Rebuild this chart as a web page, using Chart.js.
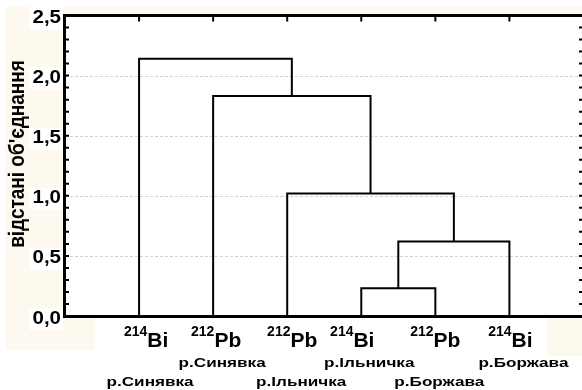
<!DOCTYPE html>
<html lang="uk">
<head>
    <meta charset="UTF-8">
    <title>Dendrogram</title>
    <script src="https://cdn.jsdelivr.net/npm/chart.js@4.4.1/dist/chart.umd.min.js"></script>
    <style>
        body { margin: 0; background: #fff; }
    </style>
</head>
<body>
    <canvas id="graph" width="582" height="390"></canvas>

    <script>
        // leaves, left to right
        const isotopes = ['214', '212', '212', '214', '212', '214'];
        const elements = ['Bi', 'Pb', 'Pb', 'Bi', 'Pb', 'Bi'];
        const rivers = ['р.Синявка', 'р.Синявка', 'р.Ільничка', 'р.Ільничка', 'р.Боржава', 'р.Боржава'];

        // joins: ids 1..6 are the leaves, 7.. are the joins in this order
        const joinLeft = [4, 7, 3, 2, 1];
        const joinRight = [5, 6, 8, 9, 10];
        const joinHeight = [0.23, 0.62, 1.02, 1.83, 2.14];

        const yTicks = [0, 0.5, 1, 1.5, 2, 2.5];
        const yTitle = "відстані об'єднання";

        // small hand nudges of the labels, like in the original
        const labelShift = [7, 3, 5, -9, 0, 1];
        const riverShift = [11, 9, 14, 8, 4, 14];

        const font = '"Liberation Sans", Arial, sans-serif';
        const cream = '#fdf9ef';

        // build the U shaped links
        const nodeX = {}, nodeY = {};
        isotopes.forEach((_, i) => { nodeX[i + 1] = i + 1; nodeY[i + 1] = 0; });
        const links = joinHeight.map((h, k) => {
            const a = joinLeft[k], b = joinRight[k], id = isotopes.length + 1 + k;
            nodeX[id] = (nodeX[a] + nodeX[b]) / 2;
            nodeY[id] = h;
            return [
                {x: nodeX[a], y: nodeY[a]},
                {x: nodeX[a], y: h},
                {x: nodeX[b], y: h},
                {x: nodeX[b], y: nodeY[b]}
            ];
        });

        function stretched(c, txt, x, y, sx, align) {
            c.save();
            c.translate(x, y);
            c.scale(sx, 1);
            c.textAlign = align;
            c.fillText(txt, 0, 0);
            c.restore();
        }

        const frame = {
            id: 'frame',
            beforeDraw(chart) {
                const c = chart.ctx, y = chart.scales.y;
                c.save();
                c.fillStyle = '#fff';
                c.fillRect(0, 0, chart.width, chart.height);
                c.fillStyle = cream;
                c.fillRect(5, 7, chart.width - 5, 8);
                c.fillRect(5, 7, 60, 343);
                c.fillRect(65, 316, 30, 34);
                c.fillRect(547, 318, 35, 38);
                c.fillStyle = '#fff';
                yTicks.forEach(v => {
                    const py = y.getPixelForValue(v);
                    c.fillRect(29, py - 8, 34, 22);
                });
                c.restore();
            },
            beforeDatasetsDraw(chart) {
                const c = chart.ctx, a = chart.chartArea, y = chart.scales.y;
                c.save();
                c.strokeStyle = '#d2d2d2';
                c.lineWidth = 1;
                c.setLineDash([3, 2]);
                yTicks.forEach(v => {
                    if (v === 0 || v === 2.5) return;
                    const py = Math.round(y.getPixelForValue(v)) + 0.5;
                    c.beginPath();
                    c.moveTo(a.left, py);
                    c.lineTo(a.right, py);
                    c.stroke();
                });
                c.restore();
            },
            afterDatasetsDraw(chart) {
                const c = chart.ctx, a = chart.chartArea, x = chart.scales.x, y = chart.scales.y;
                c.save();
                c.strokeStyle = '#000';
                // minor ticks every 0.1, inward on both sides
                c.lineWidth = 2;
                for (let k = 0; k <= 25; k++) {
                    const py = y.getPixelForValue(k / 10);
                    c.beginPath();
                    c.moveTo(a.left, py); c.lineTo(a.left + 4, py);
                    c.moveTo(a.right - 3, py); c.lineTo(a.right, py);
                    c.stroke();
                }
                // top ticks at the leaves
                isotopes.forEach((_, i) => {
                    const px = x.getPixelForValue(i + 1);
                    c.beginPath();
                    c.moveTo(px, a.top); c.lineTo(px, a.top + 6);
                    c.stroke();
                });
                // axes frame
                c.lineWidth = 3;
                c.beginPath();
                c.moveTo(a.left - 1.5, a.top);
                c.lineTo(a.right, a.top);
                c.moveTo(a.left - 1.5, a.bottom + 0.5);
                c.lineTo(a.right, a.bottom + 0.5);
                c.moveTo(a.left - 0.5, a.top - 1.5);
                c.lineTo(a.left - 0.5, a.bottom + 2);
                c.stroke();
                c.restore();
            },
            afterDraw(chart) {
                const c = chart.ctx, x = chart.scales.x, y = chart.scales.y;
                c.save();
                c.fillStyle = '#000';
                c.textBaseline = 'alphabetic';

                // y tick labels
                c.font = 'bold 18px ' + font;
                yTicks.forEach(v => {
                    const py = y.getPixelForValue(v);
                    stretched(c, v.toFixed(1).replace('.', ','), 61, py + 7.5, 1.14, 'right');
                });

                // y title
                c.save();
                c.translate(24, 154);
                c.rotate(-Math.PI / 2);
                c.scale(1, 1.15);
                c.font = 'bold 19px ' + font;
                c.textAlign = 'center';
                c.fillText(yTitle, 0, 0);
                c.restore();

                // leaf labels
                isotopes.forEach((iso, i) => {
                    const px = x.getPixelForValue(i + 1);
                    c.font = 'bold 14px ' + font;
                    const w1 = c.measureText(iso).width;
                    c.font = 'bold 21px ' + font;
                    const w2 = c.measureText(elements[i]).width;
                    const left = px + labelShift[i] - (w1 + w2) / 2;
                    c.textAlign = 'left';
                    c.font = 'bold 14px ' + font;
                    c.fillText(iso, left, 336);
                    c.font = 'bold 21px ' + font;
                    c.fillText(elements[i], left + w1, 347);

                    c.font = 'bold 13.5px ' + font;
                    const row = i % 2 === 1 ? 367 : 386;
                    stretched(c, rivers[i], px + riverShift[i], row, 1.27, 'center');
                });
                c.restore();
            }
        };

        const ctx = document.getElementById('graph').getContext('2d');
        const chart = new Chart(ctx, {
            type: 'scatter',
            data: {
                datasets: links.map(pts => ({
                    data: pts,
                    showLine: true,
                    borderColor: '#000',
                    borderWidth: 2,
                    pointRadius: 0,
                    tension: 0,
                    fill: false
                }))
            },
            options: {
                responsive: false,
                animation: false,
                layout: { padding: { left: 65, top: 15.5, right: 0, bottom: 74 } },
                plugins: {
                    legend: { display: false },
                    tooltip: { enabled: false }
                },
                scales: {
                    x: { type: 'linear', min: 0, max: 6.98, display: false },
                    y: { type: 'linear', min: 0, max: 2.5, display: false }
                }
            },
            plugins: [frame]
        });
    </script>
</body>
</html>
